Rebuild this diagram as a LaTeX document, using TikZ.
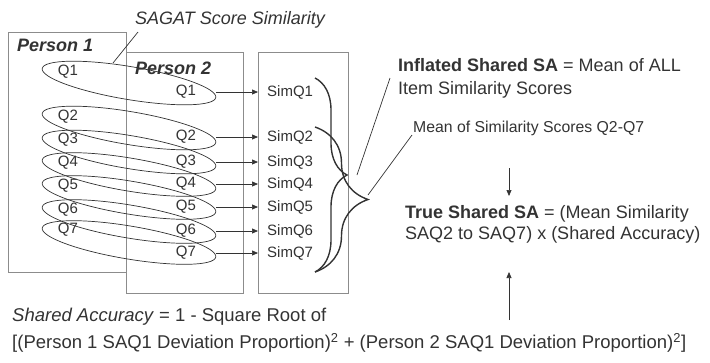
\documentclass[tikz,border=0pt]{standalone}
\usepackage{fontspec}
\setmainfont{Liberation Sans}
\usetikzlibrary{shapes.geometric,decorations.pathreplacing,arrows.meta,calc}
\definecolor{ink}{HTML}{333333}
\definecolor{boxgray}{HTML}{8C8C8C}
\begin{document}
\begin{tikzpicture}[x=1pt,y=-1pt,
  panel/.style={draw=boxgray, line width=0.9pt, inner sep=0, anchor=north west},
  qlab/.style={font=\fontsize{15}{18}\selectfont, text=ink, inner sep=0},
  pair/.style={ellipse, draw=ink, line width=0.7pt, minimum width=176, minimum height=33, inner sep=0, rotate=-9.5},
  arr/.style={draw=ink, line width=0.7pt, -{Triangle[length=6pt,width=5pt]}},
  brc/.style={draw=ink, line width=1.4pt, decorate, decoration={brace, amplitude=#1}},
  thin/.style={draw=ink, line width=0.7pt},
  big/.style={font=\fontsize{18}{23}\selectfont, text=ink, inner sep=0, anchor=base west},
]
\useasboundingbox (0,0) rectangle (710,362);

% panels
\node[panel, minimum width=118, minimum height=240] (p1box) at (8,32) {};
\node[panel, minimum width=117, minimum height=241] (p2box) at (126,52) {};
\node[panel, minimum width=90, minimum height=241] (p3box) at (258,52) {};

% titles
\node[big, font=\fontsize{18}{23}\selectfont\bfseries\itshape] (t1) at (17,51.5) {Person 1};
\node[big, font=\fontsize{18}{23}\selectfont\bfseries\itshape] (t2) at (135,74.5) {Person 2};
\node[big, font=\fontsize{18}{22}\selectfont\itshape] (sagat) at (135,24) {SAGAT Score Similarity};

% ellipses
\node[pair] (e1) at (129,83) {};
\node[pair] (e2) at (129,128) {};
\node[pair] (e3) at (129,152) {};
\node[pair] (e4) at (129,174.5) {};
\node[pair] (e5) at (129,197.5) {};
\node[pair] (e6) at (129,221.5) {};
\node[pair] (e7) at (129,242.5) {};

\coordinate (sg) at (138,32);
\coordinate (sgEnd) at (113,63);
\draw[thin] (sg) -- (sgEnd);

% person 1 labels
\foreach \i/\y in {1/72,2/117,3/140,4/163,5/186,6/210,7/230}
  \node[qlab] (a\i) at (68,\y) {Q\i};
% person 2 labels
\foreach \i/\y in {1/92,2/137,3/162,4/184,5/207,6/231,7/253}
  \node[qlab] (b\i) at (186,\y) {Q\i};
% sim labels
\foreach \i/\y in {1/92,2/137,3/162,4/184,5/207,6/231,7/253}
  \node[qlab, anchor=west] (s\i) at (267,\y) {SimQ\i};
% arrows
\foreach \i in {1,...,7}
  \draw[arr] (e\i.east |- s\i.west) -- (s\i.west -| p3box.west);

% braces
\coordinate (br1a) at (315,78);
\coordinate (br1b) at (315,272);
\coordinate (br2a) at (315,127);
\coordinate (br2b) at (315,272);
\draw[brc=32] (br1a) -- (br1b);
\draw[brc=53] (br2a) -- (br2b);

% right texts
\node[big] (inf1) at (398,71.5) {\textbf{Inflated Shared SA} = Mean of ALL};
\node[big] (inf2) at (398,94.5) {Item Similarity Scores};
\node[big, font=\fontsize{15.8}{19}\selectfont] (mean) at (413,132.7) {Mean of Similarity Scores Q2-Q7};
\node[big] (true1) at (405,218.5) {\textbf{True Shared SA} = (Mean Similarity};
\node[big] (true2) at (405,239.5) {SAQ2 to SAQ7) x (Shared Accuracy)};

\coordinate (l1a) at (357,175);
\coordinate (l1b) at (390,78);
\coordinate (l2a) at (368,195);
\coordinate (l2b) at (412,135);
\draw[thin] (l1a) -- (l1b);
\draw[thin] (l2a) -- (l2b);

\coordinate (dA) at (509,168);
\coordinate (dB) at (509,196);
\draw[arr] (dA) -- (dB);
\coordinate (uA) at (509,320);
\coordinate (uB) at (509,272);
\draw[arr] (uA) -- (uB);

% bottom
\node[big, font=\fontsize{18.5}{23}\selectfont] (sa1) at (12,321.6) {\textit{Shared Accuracy} = 1 - Square Root of};
\node[big, font=\fontsize{18.5}{23}\selectfont] (sa2) at (12,348.6) {[(Person 1 SAQ1 Deviation Proportion)\textsuperscript{2} + (Person 2 SAQ1 Deviation Proportion)\textsuperscript{2}]};
\end{tikzpicture}
\end{document}
